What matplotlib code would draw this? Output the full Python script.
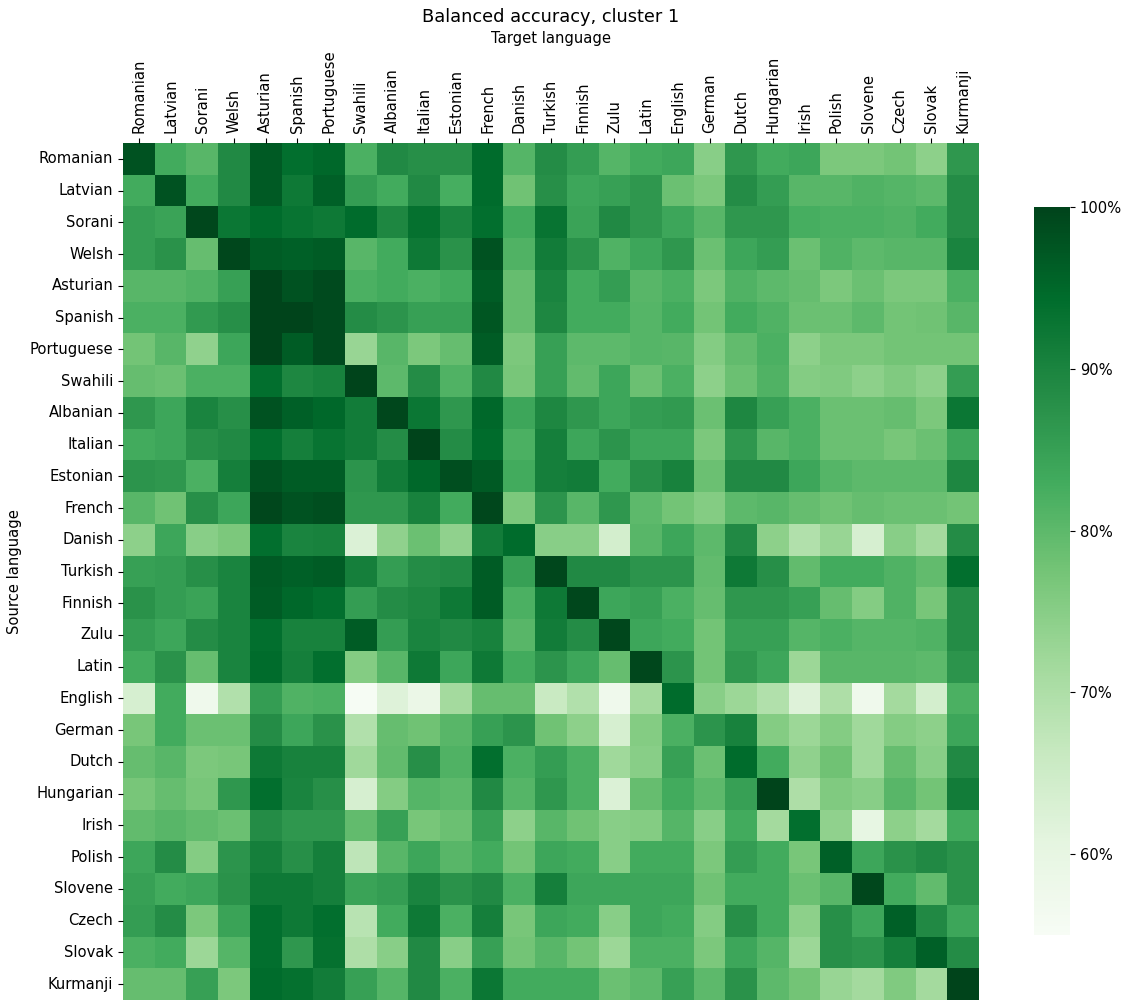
import numpy as np
import pandas as pd
import matplotlib
matplotlib.use('Agg')
import matplotlib.pyplot as plt
import seaborn as sns

languages = ['Romanian', 'Latvian', 'Sorani', 'Welsh', 'Asturian', 'Spanish',
             'Portuguese', 'Swahili', 'Albanian', 'Italian', 'Estonian',
             'French', 'Danish', 'Turkish', 'Finnish', 'Zulu', 'Latin',
             'English', 'German', 'Dutch', 'Hungarian', 'Irish', 'Polish',
             'Slovene', 'Czech', 'Slovak', 'Kurmanji']

# Balanced accuracy (%) - rows: source language, columns: target language
acc_romanian = [98, 83, 80.5, 89, 97, 94, 95, 82, 89, 88, 88, 94.5, 81, 88.5, 85.5, 81, 83, 84, 75, 86.5, 83, 84, 76.5, 76.5, 77.5, 74.5, 86.5]
acc_latvian = [83, 98, 83, 89, 97, 92, 96, 85.5, 83, 89, 82.5, 94.5, 78, 88, 84, 85, 86.5, 78.5, 76.5, 88.5, 85.5, 80.5, 80.5, 81.5, 81, 80, 88.5]
acc_sorani = [85.5, 84.5, 99.5, 92.5, 94.5, 93, 92, 94.5, 89.5, 93.5, 90, 94, 83, 93, 84.5, 89, 86.5, 84, 80.5, 86.5, 86.5, 82.5, 82, 82, 81.5, 83, 88.5]
acc_welsh = [85.5, 87.5, 79, 99.5, 96.5, 96, 96.5, 80.5, 83, 92, 87.5, 98, 81.5, 91.5, 87.5, 81.5, 84, 86.5, 78.5, 84, 85.5, 78.5, 81.5, 80, 80.5, 80.5, 90]
acc_asturian = [80.5, 80.5, 81.5, 85, 100, 98, 99, 82, 83, 82, 83, 96.5, 79, 90, 83, 85.5, 80.5, 82, 76.5, 81.5, 80, 79, 76.5, 78.5, 76.5, 76.5, 82]
acc_spanish = [82, 82, 86, 88, 100, 100, 99, 88.5, 87, 85, 85, 97.5, 79, 89.5, 83, 83, 81, 83, 77.5, 83, 81.5, 78.5, 78.5, 80, 77.5, 78, 80.5]
acc_portuguese = [77.5, 80.5, 74, 84, 100, 96.5, 99, 73, 80.5, 76.5, 79, 96.5, 76.5, 85, 80, 80, 81, 80.5, 75.5, 79.5, 82, 74.5, 76.5, 76.5, 77.5, 77.5, 77.5]
acc_swahili = [79, 78.5, 82, 82, 94, 89.5, 90.5, 100, 80, 88.5, 81.5, 89, 77, 85, 79.5, 84, 78.5, 82, 74.5, 78.5, 81.5, 75.5, 76, 74.5, 76, 74.5, 85.5]
acc_albanian = [86.5, 84, 90, 88, 98, 96, 95, 91.5, 99.5, 92.5, 86.5, 95, 84, 89.5, 86.5, 84, 85.5, 86, 78.5, 89.5, 85, 82, 78.5, 78.5, 79, 76.5, 92.5]
acc_italian = [83, 84, 88, 89, 94, 91, 93, 91.5, 88.5, 100, 88.5, 94.5, 82, 91, 84, 87, 84, 84, 76.5, 86.5, 80.5, 82, 78.5, 78.5, 77, 78.5, 84]
acc_estonian = [87, 86.5, 82, 91, 98, 96.5, 96.5, 87, 91.5, 95, 98.5, 97, 83, 91, 91.5, 83, 88, 90.5, 78.5, 89, 89, 84, 81, 80, 80, 80, 89.5]
acc_french = [80.5, 78, 88, 84, 99.5, 98, 98.5, 86.5, 86.5, 90.5, 83, 99.5, 76.5, 87, 80.5, 86.5, 80, 77.5, 75.5, 80, 80.5, 79, 78, 79, 78.5, 78.5, 77.5]
acc_danish = [74.5, 84, 75, 76.5, 94, 90, 90.5, 62.5, 74, 78.5, 74, 91.5, 94.5, 75, 75, 64, 80.5, 84, 80, 89, 74.5, 69.5, 73, 63.5, 75, 71.5, 88.5]
acc_turkish = [85, 85.5, 88, 90, 97, 96, 96.5, 91, 85.5, 88.5, 89, 96.5, 85, 99.5, 89, 89, 87, 87, 79.5, 92, 88, 79.5, 83, 83, 81.5, 79.5, 94]
acc_finnish = [87.5, 85.5, 84.5, 90, 96.5, 95, 94, 85.5, 88.5, 89.5, 92, 96.5, 82, 92, 99.5, 84, 85, 82, 79, 86.5, 86.5, 85, 79, 75.5, 81.5, 77, 88.5]
acc_zulu = [85.5, 84, 88.5, 90, 94, 90.5, 90.5, 96.5, 85.5, 90, 89, 90.5, 80.5, 91.5, 88.5, 99.5, 84, 83, 77.5, 85, 85, 81, 82, 81, 81, 81.5, 88.5]
acc_latin = [83, 87.5, 79, 90, 94.5, 91, 94, 75.5, 80.5, 92, 84, 92, 83, 87, 84, 79, 99.5, 87, 77.5, 86.5, 84, 72.5, 80.5, 80.5, 80.5, 80, 87]
acc_english = [63.5, 83, 57.5, 69.5, 85.5, 81.5, 82, 55.5, 62, 59, 71.5, 79, 79, 66, 69.5, 57.5, 71.5, 94.5, 75, 72.5, 69.5, 62, 70, 57.5, 71.5, 64, 82]
acc_german = [77, 83, 78.5, 78.5, 88.5, 84, 87.5, 69.5, 79, 78, 80.5, 85, 87, 78, 74.5, 63.5, 75.5, 82, 87, 90.5, 75.5, 72.5, 75.5, 72, 75.5, 74.5, 84]
acc_dutch = [79, 80.5, 76.5, 77, 92, 90.5, 90.5, 72, 79.5, 88, 81.5, 94, 82, 85.5, 82, 72, 75, 85, 78.5, 94.5, 83, 74, 78, 72, 79, 75, 89]
acc_hungarian = [77, 79, 77, 86.5, 94, 90, 88, 63.5, 75.5, 81, 80, 89, 81, 86.5, 82, 62.5, 79, 83, 80, 85, 100, 70, 76, 75, 80.5, 77.5, 91.5]
acc_irish = [79.5, 80.5, 79.5, 78.5, 88.5, 86.5, 86.5, 79.5, 85, 77, 78.5, 85, 74.5, 80.5, 78, 75, 75.5, 81, 75, 83, 71.5, 94, 74, 60, 74.5, 71.5, 83]
acc_polish = [84, 88.5, 75.5, 87, 91, 88, 91, 67.5, 80.5, 84, 80.5, 83, 77.5, 84, 83, 75, 83, 83, 76.5, 85.5, 83, 77, 96, 84, 87.5, 89, 87.5]
acc_slovene = [85, 83, 84, 87.5, 92, 92, 91, 84.5, 85.5, 90, 87.5, 89, 82, 91, 84, 84, 84, 84, 78, 83, 83, 78.5, 80.5, 99.5, 83, 79.5, 87.5]
acc_czech = [85.5, 88.5, 76.5, 84.5, 94, 92, 94, 68.5, 83, 92, 82, 91, 77, 84, 83, 75, 84, 83, 75.5, 88, 83, 74.5, 88, 84, 96, 89, 84]
acc_slovak = [82, 83, 72.5, 81, 94, 86.5, 93.5, 70, 75, 89, 75, 85, 77.5, 80.5, 77.5, 72.5, 82, 82, 76.5, 84, 81, 72.5, 88, 87, 91, 96, 88.5]
acc_kurmanji = [79, 79, 85, 76.5, 94.5, 93.5, 91.5, 85, 81, 89, 82, 92.5, 83, 83, 83, 78.5, 80, 85, 80, 87.5, 80, 77.5, 73, 71.5, 76, 71.5, 100]

rows = [acc_romanian, acc_latvian, acc_sorani, acc_welsh, acc_asturian,
        acc_spanish, acc_portuguese, acc_swahili, acc_albanian, acc_italian,
        acc_estonian, acc_french, acc_danish, acc_turkish, acc_finnish,
        acc_zulu, acc_latin, acc_english, acc_german, acc_dutch,
        acc_hungarian, acc_irish, acc_polish, acc_slovene, acc_czech,
        acc_slovak, acc_kurmanji]

data = pd.DataFrame(rows, index=languages, columns=languages)

fs = 10.6  # tick label size

fig = plt.figure(figsize=(11.31, 10.01), dpi=100)
ax = fig.add_axes([123 / 1131, 1 - 1000 / 1001, 856 / 1131, 857 / 1001])
cax = fig.add_axes([1034 / 1131, 1 - 935 / 1001, 36 / 1131, 728 / 1001])

sns.heatmap(data, ax=ax, cbar_ax=cax, cmap='Greens', vmin=55, vmax=100)

# Tick labels on top
ax.xaxis.tick_top()
ax.set_xticks(np.arange(len(languages)) + 0.5)
ax.set_xticklabels(languages, rotation=90, fontsize=fs)
ax.set_yticks(np.arange(len(languages)) + 0.5)
ax.set_yticklabels(languages, rotation=0, fontsize=fs)
ax.set_xlabel('')
ax.set_ylabel('')

# Colorbar formatting
cbar = ax.collections[0].colorbar
cbar.set_ticks([60, 70, 80, 90, 100])
cbar.set_ticklabels(['60%', '70%', '80%', '90%', '100%'])
cbar.ax.tick_params(labelsize=fs)

# Titles and axis labels
fig.text(551 / 1131, 1 - 17 / 1001, 'Balanced accuracy, cluster 1',
         ha='center', va='center', fontsize=12.8)
fig.text(551 / 1131, 1 - 39 / 1001, 'Target language',
         ha='center', va='center', fontsize=fs)
fig.text(15 / 1131, 1 - 572 / 1001, 'Source language', rotation=90,
         ha='center', va='center', fontsize=fs)

fig.savefig('out.png', dpi=100)
